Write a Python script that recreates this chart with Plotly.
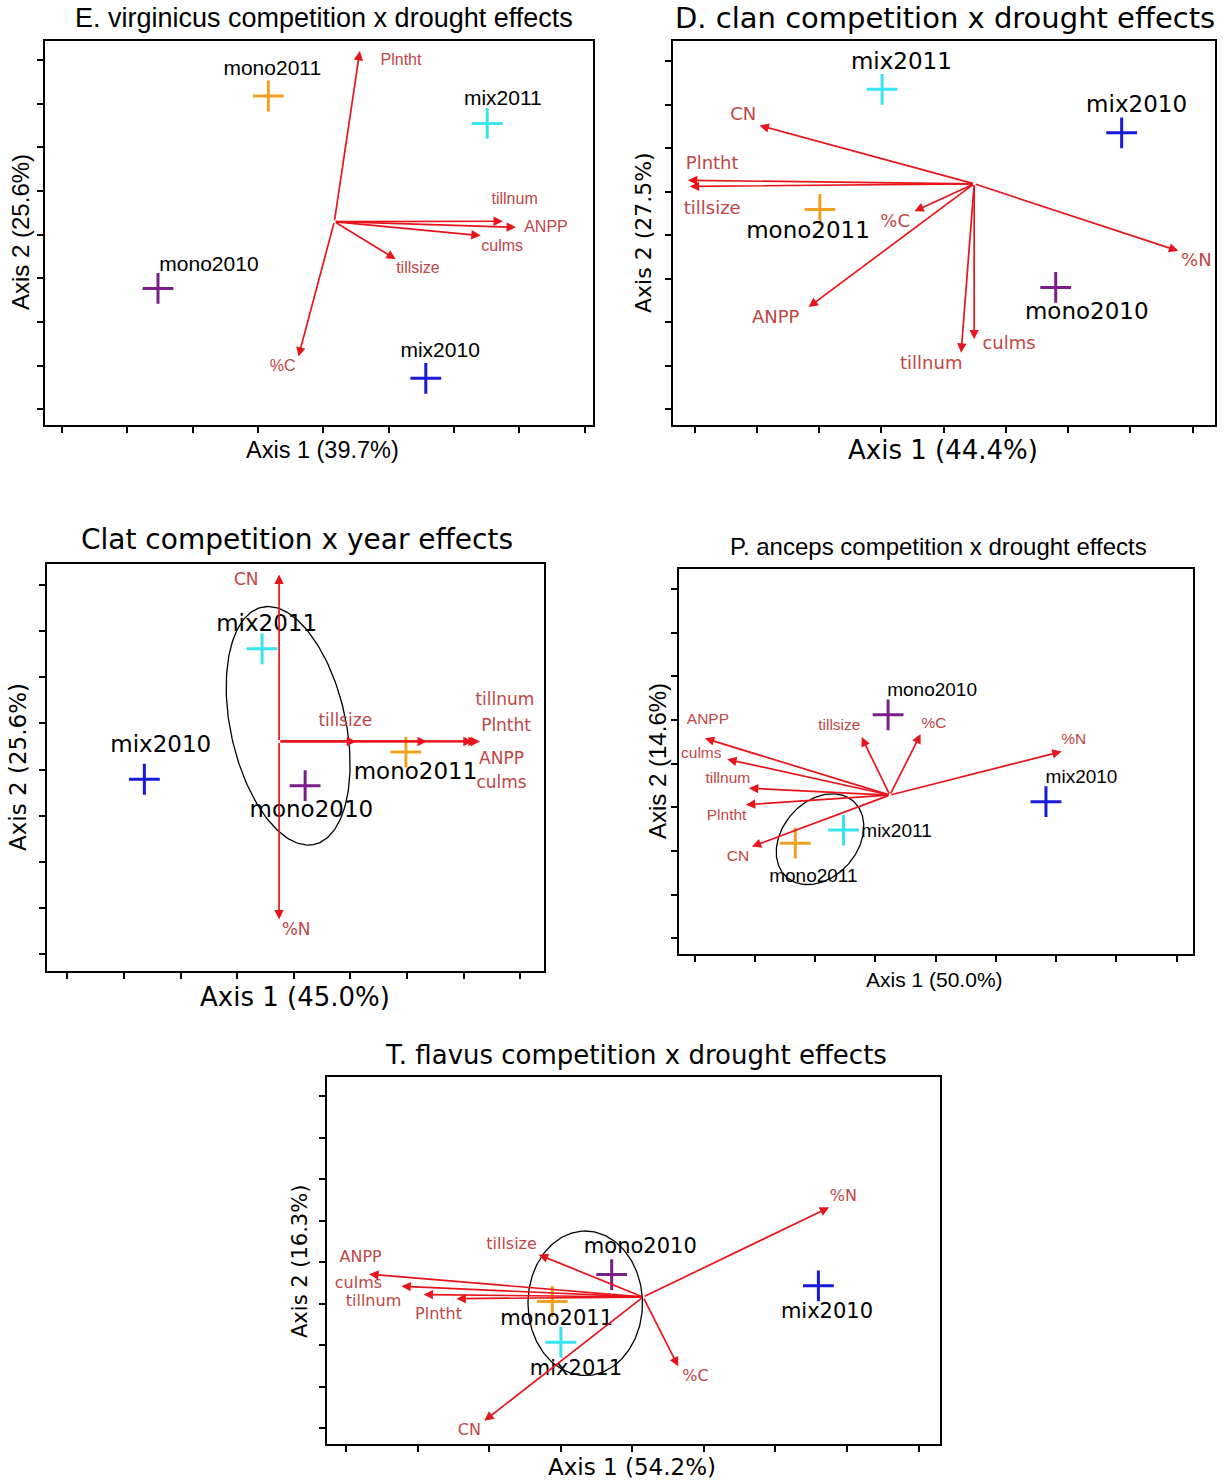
import numpy as np
import plotly.graph_objects as go

W, H = 1225, 1481

SITE_COLORS = {"mono2011": "#f0a024", "mix2011": "#38e4f0",
               "mono2010": "#7a1f88", "mix2010": "#1818d8"}
ARROW_RED = "#e8141b"
VAR_TEXT = "#c04646"

# ---------------- Panel 1: E. virginicus ----------------
p1_title = "E. virginicus competition x drought effects"
p1_xlab = "Axis 1 (39.7%)"
p1_ylab = "Axis 2 (25.6%)"
p1_sites = ["mono2011", "mix2011", "mono2010", "mix2010"]
p1_site_x = [3.16, 6.51, 1.47, 5.57]
p1_site_y = [7.18, 6.55, 2.77, 0.71]
p1_site_lx = [3.22, 6.75, 2.25, 5.79]
p1_site_ly = [7.79, 7.10, 3.29, 1.31]
p1_vars = ["Plntht", "tillnum", "ANPP", "culms", "tillsize", "%C"]
p1_var_x = [4.56, 6.75, 6.95, 6.41, 5.11, 3.62]
p1_var_y = [8.21, 4.31, 4.17, 3.98, 3.44, 1.21]
p1_var_lx = [5.19, 6.93, 7.41, 6.74, 5.45, 3.38]
p1_var_ly = [7.98, 4.79, 4.16, 3.73, 3.21, 0.98]
p1_origin = [4.17, 4.30]

# ---------------- Panel 2: D. clan ----------------
p2_title = "D. clan competition x drought effects"
p2_xlab = "Axis 1 (44.4%)"
p2_ylab = "Axis 2 (27.5%)"
p2_sites = ["mix2011", "mix2010", "mono2011", "mono2010"]
p2_site_x = [3.01, 6.86, 2.01, 5.80]
p2_site_y = [7.35, 6.35, 4.59, 2.80]
p2_site_lx = [3.32, 7.10, 1.82, 6.30]
p2_site_ly = [7.96, 6.97, 4.06, 2.20]
p2_vars = ["CN", "Plntht", "tillsize", "%C", "ANPP", "tillnum", "culms", "%N"]
p2_var_x = [1.04, -0.11, -0.08, 3.53, 1.83, 4.28, 4.49, 7.77]
p2_var_y = [6.52, 5.26, 5.12, 4.55, 2.35, 1.30, 1.61, 3.64]
p2_var_lx = [0.78, 0.28, 0.28, 3.22, 1.30, 3.80, 5.05, 8.06]
p2_var_ly = [6.75, 5.62, 4.59, 4.30, 2.09, 1.03, 1.48, 3.39]
p2_origin = [4.49, 5.18]

# ---------------- Panel 3: Clat ----------------
p3_title = "Clat competition x year effects"
p3_xlab = "Axis 1 (45.0%)"
p3_ylab = "Axis 2 (25.6%)"
p3_sites = ["mix2011", "mix2010", "mono2011", "mono2010"]
p3_site_x = [3.44, 1.36, 5.98, 4.20]
p3_site_y = [6.62, 3.79, 4.38, 3.65]
p3_site_lx = [3.52, 1.65, 6.15, 4.31]
p3_site_ly = [7.13, 4.50, 3.92, 3.09]
p3_vars = ["CN", "%N", "tillsize", "culms", "tillnum", "Plntht", "ANPP"]
p3_var_x = [3.74, 3.74, 5.10, 6.35, 7.16, 7.29, 7.25]
p3_var_y = [8.23, 0.75, 4.61, 4.61, 4.61, 4.61, 4.61]
p3_var_lx = [3.16, 4.04, 4.91, 7.67, 7.73, 7.75, 7.67]
p3_var_ly = [8.09, 0.51, 5.03, 3.69, 5.50, 4.92, 4.21]
p3_origin = [3.74, 4.61]
p3_ell_center = [3.90, 4.95]
p3_ell_major = [0.444, -2.578]
p3_ell_minor = [1.00, 0.225]

# ---------------- Panel 4: P. anceps ----------------
p4_title = "P. anceps competition x drought effects"
p4_xlab = "Axis 1 (50.0%)"
p4_ylab = "Axis 2 (14.6%)"
p4_sites = ["mono2010", "mix2010", "mix2011", "mono2011"]
p4_site_x = [3.21, 5.83, 2.47, 1.67]
p4_site_y = [5.12, 3.13, 2.48, 2.18]
p4_site_lx = [3.94, 6.42, 3.35, 1.97]
p4_site_ly = [5.65, 3.67, 2.44, 1.39]
p4_vars = ["ANPP", "culms", "tillnum", "Plntht", "CN", "tillsize", "%C", "%N"]
p4_var_x = [0.17, 0.54, 0.90, 0.85, 0.95, 2.77, 3.75, 6.09]
p4_var_y = [4.58, 4.10, 3.44, 3.06, 2.10, 4.61, 4.68, 4.28]
p4_var_lx = [0.22, 0.11, 0.55, 0.53, 0.72, 2.40, 3.97, 6.29]
p4_var_ly = [4.99, 4.22, 3.64, 2.81, 1.87, 4.85, 4.91, 4.53]
p4_origin = [3.24, 3.28]
p4_ell_center = [2.08, 2.27]
p4_ell_major = [0.465, 0.955]
p4_ell_minor = [0.558, -0.413]

# ---------------- Panel 5: T. flavus ----------------
p5_title = "T. flavus competition x drought effects"
p5_xlab = "Axis 1 (54.2%)"
p5_ylab = "Axis 2 (16.3%)"
p5_sites = ["mono2010", "mix2010", "mono2011", "mix2011"]
p5_site_x = [3.71, 6.60, 2.88, 3.00]
p5_site_y = [3.70, 3.43, 3.05, 2.07]
p5_site_lx = [4.11, 6.72, 2.94, 3.21]
p5_site_ly = [4.34, 2.79, 2.61, 1.41]
p5_vars = ["%N", "%C", "CN", "tillsize", "ANPP", "culms", "tillnum", "Plntht"]
p5_var_x = [6.75, 4.64, 1.93, 2.69, 0.32, 0.77, 1.08, 1.54]
p5_var_y = [5.32, 1.49, 0.18, 4.18, 3.71, 3.42, 3.22, 3.12]
p5_var_lx = [6.95, 4.88, 1.72, 2.31, 0.20, 0.17, 0.38, 1.29]
p5_var_ly = [5.56, 1.23, -0.06, 4.41, 4.10, 3.47, 3.05, 2.73]
p5_origin = [4.15, 3.16]
p5_ell_center = [3.34, 3.01]
p5_ell_major = [0.0, 1.74]
p5_ell_minor = [0.80, 0.0]

tick_vals = [0, 1, 2, 3, 4, 5, 6, 7, 8]

panels = [
    dict(title=p1_title, xlab=p1_xlab, ylab=p1_ylab, sites=p1_sites, sx=p1_site_x, sy=p1_site_y,
         slx=p1_site_lx, sly=p1_site_ly, vars=p1_vars, vx=p1_var_x, vy=p1_var_y, vlx=p1_var_lx,
         vly=p1_var_ly, origin=p1_origin, ell=None,
         box=(45, 593, 41, 425), xr=(-0.26, 8.13), yr=(-0.36, 8.44),
         font="Liberation Sans", tsize=27, asize=23.5, ysize=24, psize=21, vsize=16,
         tpos=(324, 18), xpos=(322, 450), ypos=(20, 232)),
    dict(title=p2_title, xlab=p2_xlab, ylab=p2_ylab, sites=p2_sites, sx=p2_site_x, sy=p2_site_y,
         slx=p2_site_lx, sly=p2_site_ly, vars=p2_vars, vx=p2_var_x, vy=p2_var_y, vlx=p2_var_lx,
         vly=p2_var_ly, origin=p2_origin, ell=None,
         box=(673, 1215, 41, 425), xr=(-0.35, 8.36), yr=(-0.36, 8.46),
         font="DejaVu Sans", tsize=29, asize=26, ysize=22, psize=23, vsize=18,
         tpos=(945, 18), xpos=(943, 450), ypos=(643, 233)),
    dict(title=p3_title, xlab=p3_xlab, ylab=p3_ylab, sites=p3_sites, sx=p3_site_x, sy=p3_site_y,
         slx=p3_site_lx, sly=p3_site_ly, vars=p3_vars, vx=p3_var_x, vy=p3_var_y, vlx=p3_var_lx,
         vly=p3_var_ly, origin=p3_origin, ell=(p3_ell_center, p3_ell_major, p3_ell_minor),
         box=(47, 544, 564, 971), xr=(-0.36, 8.42), yr=(-0.37, 8.46),
         font="DejaVu Sans", tsize=28, asize=26, ysize=23, psize=23, vsize=17,
         tpos=(297, 540), xpos=(295, 997), ypos=(18, 767)),
    dict(title=p4_title, xlab=p4_xlab, ylab=p4_ylab, sites=p4_sites, sx=p4_site_x, sy=p4_site_y,
         slx=p4_site_lx, sly=p4_site_ly, vars=p4_vars, vx=p4_var_x, vy=p4_var_y, vlx=p4_var_lx,
         vly=p4_var_ly, origin=p4_origin, ell=(p4_ell_center, p4_ell_major, p4_ell_minor),
         box=(679, 1193, 569, 954), xr=(-0.26, 8.27), yr=(-0.36, 8.46),
         font="Liberation Sans", tsize=24, asize=21, ysize=24, psize=19, vsize=15.5,
         tpos=(938, 546), xpos=(934, 979), ypos=(657, 761)),
    dict(title=p5_title, xlab=p5_xlab, ylab=p5_ylab, sites=p5_sites, sx=p5_site_x, sy=p5_site_y,
         slx=p5_site_lx, sly=p5_site_ly, vars=p5_vars, vx=p5_var_x, vy=p5_var_y, vlx=p5_var_lx,
         vly=p5_var_ly, origin=p5_origin, ell=(p5_ell_center, p5_ell_major, p5_ell_minor),
         box=(327, 940, 1077, 1444), xr=(-0.27, 8.30), yr=(-0.38, 8.46),
         font="DejaVu Sans", tsize=26, asize=23, ysize=21, psize=21, vsize=16,
         tpos=(636, 1055), xpos=(632, 1467), ypos=(300, 1262)),
]

fig = go.Figure()
layout = dict(width=W, height=H, margin=dict(l=0, r=0, t=0, b=0),
              paper_bgcolor="white", plot_bgcolor="white", showlegend=False,
              hovermode=False)
annotations = []

for i, p in enumerate(panels):
    n = "" if i == 0 else str(i + 1)
    xa, ya = "x" + n, "y" + n
    x0, x1, y0, y1 = p["box"]
    axis_common = dict(showgrid=False, zeroline=False, showticklabels=False,
                       ticks="outside", ticklen=6, tickwidth=1.5, tickcolor="black",
                       tickvals=tick_vals, showline=True, linewidth=2,
                       linecolor="black", mirror=True, fixedrange=True)
    layout["xaxis" + n] = dict(axis_common, domain=[x0 / W, x1 / W], range=list(p["xr"]),
                               anchor=ya)
    layout["yaxis" + n] = dict(axis_common, domain=[1 - y1 / H, 1 - y0 / H],
                               range=list(p["yr"]), anchor=xa)

    # ellipse
    if p["ell"] is not None:
        c, a, b = p["ell"]
        t = np.linspace(0, 2 * np.pi, 200)
        ex = c[0] + a[0] * np.cos(t) + b[0] * np.sin(t)
        ey = c[1] + a[1] * np.cos(t) + b[1] * np.sin(t)
        fig.add_trace(go.Scatter(x=ex, y=ey, mode="lines", xaxis=xa, yaxis=ya,
                                 line=dict(color="black", width=1.3)))

    # arrows
    for vx, vy in zip(p["vx"], p["vy"]):
        annotations.append(dict(x=vx, y=vy, ax=p["origin"][0], ay=p["origin"][1],
                                xref=xa, yref=ya, axref=xa, ayref=ya, text="",
                                showarrow=True, arrowhead=2, arrowsize=1.1,
                                arrowwidth=1.7, arrowcolor=ARROW_RED,
                                standoff=0, startstandoff=0))

    # variable labels
    fig.add_trace(go.Scatter(x=p["vlx"], y=p["vly"], text=p["vars"], mode="text",
                             xaxis=xa, yaxis=ya, textposition="middle center",
                             textfont=dict(family=p["font"], size=p["vsize"], color=VAR_TEXT)))

    # site markers
    fig.add_trace(go.Scatter(x=p["sx"], y=p["sy"], mode="markers", xaxis=xa, yaxis=ya,
                             marker=dict(symbol="cross-thin", size=22,
                                         line=dict(width=3,
                                                   color=[SITE_COLORS[s] for s in p["sites"]]))))
    # site labels
    fig.add_trace(go.Scatter(x=p["slx"], y=p["sly"], text=p["sites"], mode="text",
                             xaxis=xa, yaxis=ya, textposition="middle center",
                             textfont=dict(family=p["font"], size=p["psize"], color="black")))

    # titles
    annotations.append(dict(x=p["tpos"][0] / W, y=1 - p["tpos"][1] / H, xref="paper",
                            yref="paper", text=p["title"], showarrow=False,
                            xanchor="center", yanchor="middle",
                            font=dict(family=p["font"], size=p["tsize"], color="black")))
    annotations.append(dict(x=p["xpos"][0] / W, y=1 - p["xpos"][1] / H, xref="paper",
                            yref="paper", text=p["xlab"], showarrow=False,
                            xanchor="center", yanchor="middle",
                            font=dict(family=p["font"], size=p["asize"], color="black")))
    annotations.append(dict(x=p["ypos"][0] / W, y=1 - p["ypos"][1] / H, xref="paper",
                            yref="paper", text=p["ylab"], showarrow=False, textangle=-90,
                            xanchor="center", yanchor="middle",
                            font=dict(family=p["font"], size=p["ysize"], color="black")))

layout["annotations"] = annotations
fig.update_layout(**layout)
fig.write_html("out.html")
